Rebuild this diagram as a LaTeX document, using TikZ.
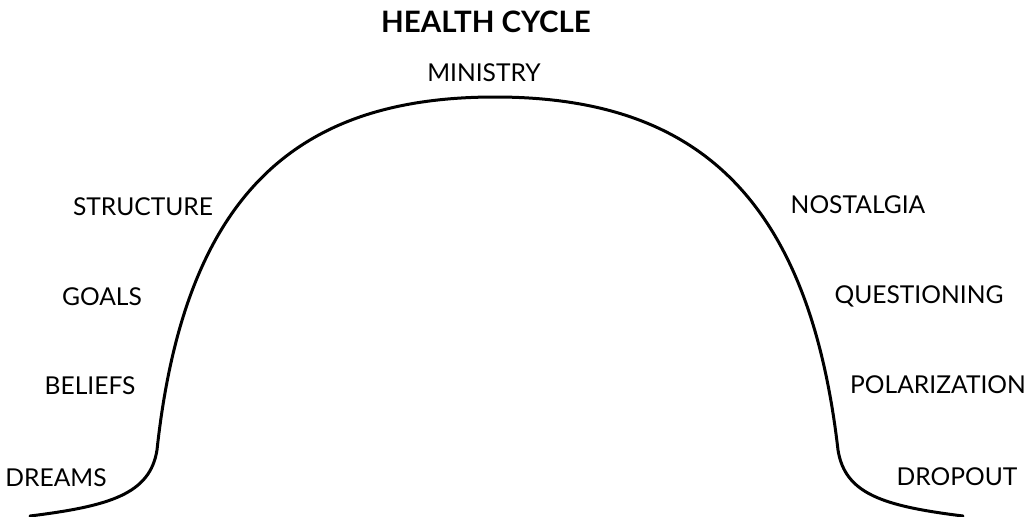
\documentclass[tikz,border=0pt]{standalone}
\usepackage{fontspec}
\setmainfont{Lato}
\begin{document}
\begin{tikzpicture}[x=1pt,y=-1pt,
  lbl/.style={inner sep=0pt,font=\fontsize{24.6}{24.6}\selectfont},
  ttl/.style={inner sep=0pt,font=\fontsize{29.5}{29.5}\selectfont\bfseries},
  curve/.style={line width=3pt,line cap=round}]
\useasboundingbox[fill=white] (0,0) rectangle (1029,517);
\node[ttl] (title) at (486,21.5) {HEALTH CYCLE};
\node[lbl] (ministry) at (484,73) {MINISTRY};
\node[lbl] (structure) at (143,206.5) {STRUCTURE};
\node[lbl] (goals) at (102,297) {GOALS};
\node[lbl] (beliefs) at (90,386) {BELIEFS};
\node[lbl] (dreams) at (56,478) {DREAMS};
\node[lbl] (nostalgia) at (858,205) {NOSTALGIA};
\node[lbl] (questioning) at (919,296) {QUESTIONING};
\node[lbl] (polarization) at (938,385) {POLARIZATION};
\node[lbl] (dropout) at (957,477) {DROPOUT};
\coordinate (s) at (30,516);
\coordinate (l) at (157,450);
\coordinate (p) at (495,97);
\coordinate (r) at (838,450);
\coordinate (e) at (963,516);
\draw[curve] (s) .. controls (110,506) and (150,494) .. (l)
  .. controls (185,190) and (300,97) .. (p)
  .. controls (690,97) and (808,190) .. (r)
  .. controls (845,494) and (883,506) .. (e);
\end{tikzpicture}
\end{document}
